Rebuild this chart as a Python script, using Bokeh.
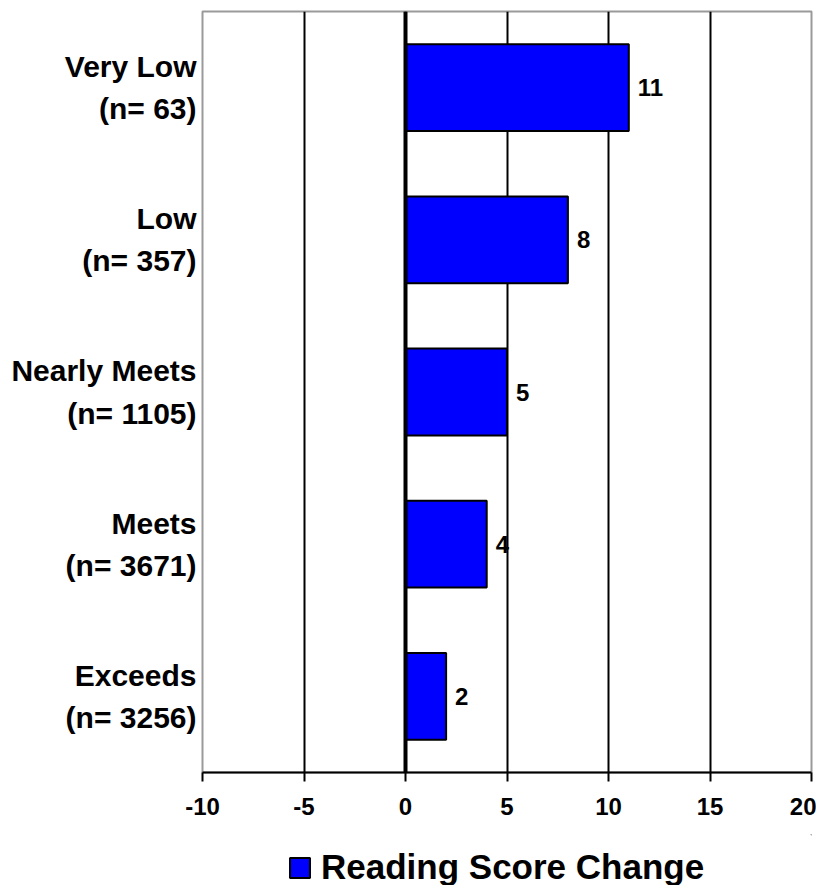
from bokeh.plotting import figure
from bokeh.layouts import column
from bokeh.models import (Range1d, FixedTicker, Span, Legend, LegendItem,
                          ColumnDataSource)
from bokeh.core.properties import value
from bokeh.embed import file_html
from bokeh.resources import INLINE

# ---- data ----
categories = ["Very Low", "Low", "Nearly Meets", "Meets", "Exceeds"]
counts = [63, 357, 1105, 3671, 3256]
score_change = [11, 8, 5, 4, 2]
x_ticks = [-10, -5, 0, 5, 10, 15, 20]
series_name = "Reading Score Change"

labels = [f"{c}\n(n= {n})" for c, n in zip(categories, counts)]
ncat = len(categories)
ypos = [ncat - i - 0.5 for i in range(ncat)]   # first category at top

src = ColumnDataSource(dict(y=ypos, val=score_change,
                            txt=[str(v) for v in score_change]))

FONT = "Liberation Sans"
BAR_FILL = "#0000ff"

p = figure(
    y_range=Range1d(0, ncat),
    x_range=Range1d(-10, 20),
    frame_width=609, frame_height=761,
    min_border_left=202, min_border_right=5, min_border_top=11, min_border_bottom=62,
    output_backend="svg", toolbar_location=None,
    background_fill_color="white", border_fill_color="white",
)

p.outline_line_color = "#9a9a9a"
p.outline_line_width = 2

# grid
p.ygrid.grid_line_color = None
p.xgrid.ticker = FixedTicker(ticks=x_ticks)
p.xgrid.grid_line_color = "black"
p.xgrid.grid_line_width = 2

# x axis
p.xaxis.ticker = FixedTicker(ticks=x_ticks)
p.xaxis.major_label_overrides = {t: str(t) for t in x_ticks}
p.xaxis.axis_line_color = "black"
p.xaxis.axis_line_width = 2
p.xaxis.major_tick_line_color = "black"
p.xaxis.major_tick_line_width = 2
p.xaxis.major_tick_out = 9
p.xaxis.major_tick_in = 0
p.xaxis.minor_tick_line_color = None
p.xaxis.major_label_text_font = FONT
p.xaxis.major_label_text_font_style = "bold"
p.xaxis.major_label_text_font_size = "24px"
p.xaxis.major_label_text_color = "black"
p.xaxis.major_label_standoff = 16

# y axis: category labels at the bar positions
p.yaxis.ticker = FixedTicker(ticks=ypos)
p.yaxis.major_label_overrides = {y: lab for y, lab in zip(ypos, labels)}
p.yaxis.axis_line_color = None
p.yaxis.major_tick_line_color = None
p.yaxis.minor_tick_line_color = None
p.yaxis.major_label_text_font = FONT
p.yaxis.major_label_text_font_style = "bold"
p.yaxis.major_label_text_font_size = "30px"
p.yaxis.major_label_text_color = "black"
p.yaxis.major_label_text_line_height = 1.28
p.yaxis.major_label_standoff = 0

# bars
bars = p.hbar(y="y", right="val", left=0, height=0.57, source=src,
              fill_color=BAR_FILL, line_color="black", line_width=2)

# zero line
p.add_layout(Span(location=0, dimension="height", line_color="black", line_width=4))

# value labels
p.text(x="val", y="y", text="txt", source=src, x_offset=9,
       text_baseline="middle", text_align="left",
       text_font=value(FONT), text_font_style="bold", text_font_size="24px",
       text_color="black")

# ---- legend strip (separate small figure below the chart) ----
lg = figure(
    x_range=Range1d(0, 1), y_range=Range1d(0, 1),
    frame_width=609, frame_height=53,
    min_border_left=202, min_border_right=5, min_border_top=0, min_border_bottom=0,
    output_backend="svg", toolbar_location=None,
    background_fill_color="white", border_fill_color="white",
)
lg.axis.visible = False
lg.grid.visible = False
lg.outline_line_color = None
# swatch renderer for the legend entry (placed entirely outside the strip's ranges)
legend_bar = lg.hbar(y=[50], left=[50], right=[51], height=0.5,
                     fill_color=BAR_FILL, line_color="black", line_width=2)
legend = Legend(items=[LegendItem(label=series_name, renderers=[legend_bar])],
                orientation="horizontal", location=(85, 0),
                label_text_font=FONT, label_text_font_style="bold",
                label_text_font_size="35px", label_text_color="black",
                glyph_width=25, glyph_height=25, label_standoff=9,
                border_line_color=None, background_fill_alpha=0,
                margin=0, padding=0, spacing=0)
lg.add_layout(legend, "center")

layout = column(p, lg, spacing=0)
open("out.html", "w").write(file_html(layout, INLINE))
